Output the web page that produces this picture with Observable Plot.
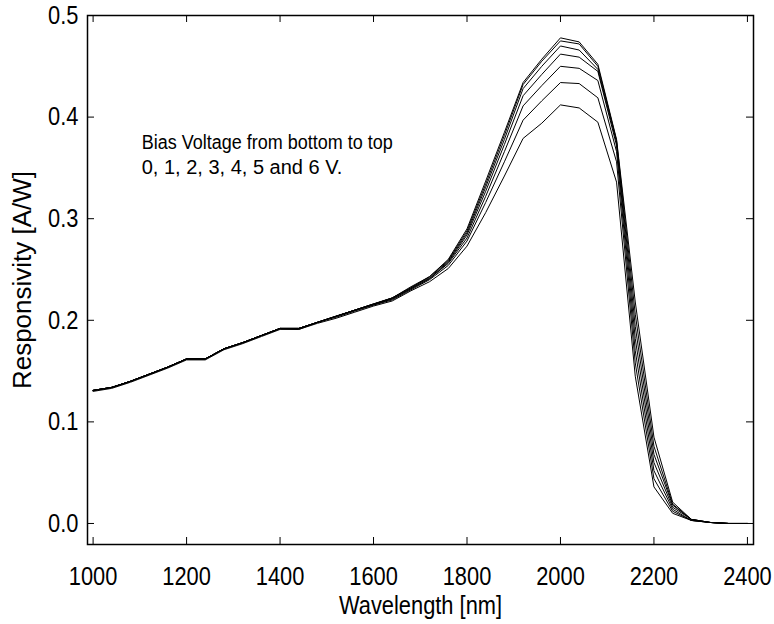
<!DOCTYPE html>
<html>
<head>
<meta charset="utf-8">
<script src="https://cdn.jsdelivr.net/npm/d3@7"></script>
<script src="https://cdn.jsdelivr.net/npm/@observablehq/plot@0.6"></script>
<style>
  html, body { margin: 0; padding: 0; background: #fff; }
</style>
</head>
<body>
<div id="chart"></div>
<script>
// Spectral responsivity of the photodiode, sampled every 40 nm.
const wavelength = [
  1000, 1040, 1080, 1120, 1160, 1200, 1240, 1280, 1320, 1360, 1400, 1440,
  1480, 1520, 1560, 1600, 1640, 1680, 1720, 1760, 1800, 1840, 1880, 1920,
  1960, 2000, 2040, 2080, 2120, 2160, 2200, 2240, 2280, 2320, 2360, 2400
];

// Responsivity [A/W] for each bias voltage.
const bias0V = [
  0.130, 0.133, 0.139, 0.146, 0.153, 0.161, 0.161, 0.171, 0.177, 0.184, 0.191, 0.191,
  0.197, 0.202, 0.208, 0.214, 0.219, 0.229, 0.238, 0.251, 0.273, 0.306, 0.342, 0.379,
  0.394, 0.412, 0.409, 0.395, 0.336, 0.145, 0.036, 0.010, 0.003, 0.001, 0.000, 0.000
];
const bias1V = [
  0.131, 0.134, 0.140, 0.147, 0.154, 0.162, 0.162, 0.172, 0.178, 0.185, 0.192, 0.191,
  0.198, 0.203, 0.209, 0.215, 0.220, 0.230, 0.240, 0.254, 0.278, 0.316, 0.356, 0.397,
  0.416, 0.434, 0.433, 0.419, 0.356, 0.158, 0.044, 0.012, 0.003, 0.001, 0.000, 0.000
];
const bias2V = [
  0.131, 0.134, 0.140, 0.147, 0.154, 0.162, 0.162, 0.172, 0.178, 0.185, 0.192, 0.192,
  0.198, 0.204, 0.210, 0.215, 0.221, 0.231, 0.241, 0.256, 0.281, 0.322, 0.366, 0.411,
  0.431, 0.450, 0.448, 0.436, 0.366, 0.170, 0.052, 0.014, 0.003, 0.001, 0.000, 0.000
];
const bias3V = [
  0.131, 0.134, 0.140, 0.147, 0.154, 0.162, 0.162, 0.172, 0.178, 0.185, 0.192, 0.192,
  0.198, 0.204, 0.210, 0.216, 0.221, 0.231, 0.241, 0.257, 0.284, 0.327, 0.373, 0.421,
  0.442, 0.462, 0.459, 0.445, 0.372, 0.182, 0.060, 0.016, 0.004, 0.001, 0.000, 0.000
];
const bias4V = [
  0.131, 0.134, 0.140, 0.147, 0.154, 0.162, 0.162, 0.172, 0.178, 0.185, 0.192, 0.192,
  0.198, 0.204, 0.210, 0.216, 0.222, 0.232, 0.242, 0.258, 0.286, 0.331, 0.378, 0.428,
  0.450, 0.470, 0.466, 0.447, 0.375, 0.194, 0.068, 0.018, 0.004, 0.001, 0.000, 0.000
];
const bias5V = [
  0.131, 0.134, 0.140, 0.147, 0.154, 0.162, 0.162, 0.172, 0.178, 0.185, 0.192, 0.192,
  0.198, 0.204, 0.210, 0.216, 0.222, 0.232, 0.243, 0.259, 0.288, 0.334, 0.382, 0.432,
  0.455, 0.475, 0.472, 0.450, 0.377, 0.206, 0.076, 0.019, 0.004, 0.001, 0.000, 0.000
];
const bias6V = [
  0.131, 0.134, 0.140, 0.147, 0.154, 0.162, 0.162, 0.172, 0.178, 0.185, 0.192, 0.192,
  0.198, 0.204, 0.210, 0.216, 0.222, 0.233, 0.243, 0.260, 0.290, 0.337, 0.385, 0.434,
  0.457, 0.478, 0.474, 0.452, 0.378, 0.218, 0.085, 0.021, 0.004, 0.001, 0.000, 0.000
];

const biasLabels = ["0 V", "1 V", "2 V", "3 V", "4 V", "5 V", "6 V"];
const xTicks = [1000, 1200, 1400, 1600, 1800, 2000, 2200, 2400];
const yTicks = [0.0, 0.1, 0.2, 0.3, 0.4, 0.5];

const xLabel = "Wavelength [nm]";
const yLabel = "Responsivity [A/W]";
const note = "Bias Voltage from bottom to top\n0, 1, 2, 3, 4, 5 and 6 V.";

// Long-format table: one row per (bias, wavelength) sample.
const series = [bias0V, bias1V, bias2V, bias3V, bias4V, bias5V, bias6V];
const rows = series.flatMap((values, i) =>
  values.map((r, j) => ({bias: biasLabels[i], wavelength: wavelength[j], responsivity: r}))
);

const W = 774, H = 624;
const mL = 87, mR = 21, mT = 15, mB = 80;
const innerW = W - mL - mR;
const innerH = H - mT - mB;
const tickLen = 7;

const axisFont = "'Liberation Sans', Arial, Helvetica, sans-serif";

const chart = Plot.plot({
  width: W,
  height: H,
  marginLeft: mL,
  marginRight: mR,
  marginTop: mT,
  marginBottom: mB,
  style: {background: "#fff", color: "#000", fontFamily: axisFont},
  x: {domain: [988, 2413]},
  y: {domain: [-0.0207, 0.5]},
  marks: [
    // tick labels (ticks themselves are drawn inward below)
    Plot.axisX(xTicks, {tickSize: 0, tickPadding: 22, fontSize: 26, tickFormat: (d) => String(d), label: null}),
    Plot.axisY(yTicks, {tickSize: 0, tickPadding: 9, fontSize: 26, tickFormat: d3.format(".1f"), label: null}),

    // inward ticks on all four sides
    Plot.tickX(xTicks, {x: (d) => d, insetTop: innerH - tickLen, stroke: "#000", strokeWidth: 1}),
    Plot.tickX(xTicks, {x: (d) => d, insetBottom: innerH - tickLen, stroke: "#000", strokeWidth: 1}),
    Plot.tickY(yTicks, {y: (d) => d, insetRight: innerW - tickLen, stroke: "#000", strokeWidth: 1}),
    Plot.tickY(yTicks, {y: (d) => d, insetLeft: innerW - tickLen, stroke: "#000", strokeWidth: 1}),

    // responsivity curves
    Plot.line(rows, {x: "wavelength", y: "responsivity", z: "bias", stroke: "#000", strokeWidth: 1}),

    Plot.frame({stroke: "#000", strokeWidth: 1.5}),

    // axis titles
    Plot.text([xLabel], {text: (d) => d, frameAnchor: "bottom", dy: 69, fontSize: 26, fill: "#000", className: "x-title"}),
    Plot.text([yLabel], {text: (d) => d, frameAnchor: "left", textAnchor: "middle", dx: -65, rotate: -90, fontSize: 26, fill: "#000", className: "y-title"}),

    // annotation
    Plot.text([note], {
      text: (d) => d, x: () => 1104, y: () => 0.386,
      textAnchor: "start", lineAnchor: "top", lineHeight: 1.25,
      fontSize: 20, fill: "#000", className: "note"
    })
  ]
});

document.getElementById("chart").append(chart);

// Horizontal axis lettering is set in a condensed cut: squeeze the glyphs.
const condense = 0.84;
chart.querySelectorAll(
  'g[aria-label="x-axis tick label"] text, g[aria-label="y-axis tick label"] text, g.x-title text'
).forEach((t) => {
  const w = t.getComputedTextLength();
  t.setAttribute("textLength", (w * condense).toFixed(1));
  t.setAttribute("lengthAdjust", "spacingAndGlyphs");
});

// The first annotation line is set a little tighter than the second.
const noteLines = chart.querySelectorAll("g.note tspan");
if (noteLines.length > 0) {
  const first = noteLines[0];
  const w = first.getComputedTextLength();
  first.setAttribute("textLength", (w * 0.9).toFixed(1));
  first.setAttribute("lengthAdjust", "spacingAndGlyphs");
}
</script>
</body>
</html>
